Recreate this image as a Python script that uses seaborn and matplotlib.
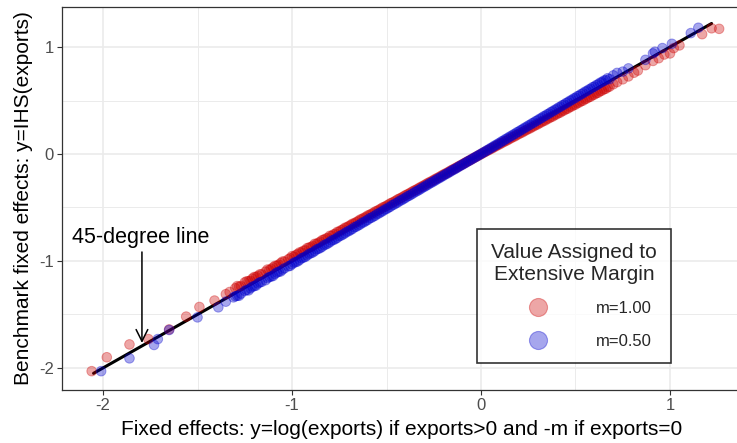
import matplotlib
matplotlib.use("Agg")
import matplotlib.pyplot as plt
from matplotlib.lines import Line2D
from matplotlib.ticker import MultipleLocator
import pandas as pd
import seaborn as sns

# m = 1.00 : fixed effects (x) against benchmark IHS fixed effects (y)
red_x = [-2.06, -1.98, -1.86, -1.76, -1.65, -1.56, -1.49, -1.41, -1.35, -1.33,
         -1.30, -1.28, -1.25, -1.23, -1.21, -1.19, -1.17, -1.14, -1.12, -1.10,
         -1.08, -1.06, -1.04, -1.01, -0.99, -0.97, -0.95, -0.93, -0.91, -0.89,
         -0.87, -0.85, -0.83, -0.81, -0.79, -0.77, -0.75, -0.73, -0.71, -0.69,
         -0.67, -0.65, -0.63, -0.61, -0.59, -0.57, -0.55, -0.53, -0.51, -0.49,
         -0.47, -0.45, -0.43, -0.41, -0.39, -0.37, -0.35, -0.33, -0.31, -0.29,
         -0.27, -0.25, -0.23, -0.21, -0.19, -0.17, -0.15, -0.13, -0.11, -0.09,
         -0.07, -0.05, -0.03, -0.01, 0.01, 0.03, 0.05, 0.07, 0.09, 0.11,
         0.13, 0.15, 0.17, 0.19, 0.21, 0.23, 0.25, 0.27, 0.29, 0.31,
         0.33, 0.35, 0.37, 0.39, 0.41, 0.43, 0.45, 0.47, 0.49, 0.51,
         0.53, 0.55, 0.57, 0.59, 0.61, 0.63, 0.65, 0.67, 0.70, 0.72,
         0.75, 0.78, 0.81, 0.83, 0.87, 0.91, 0.94, 0.97, 1.00, 1.02,
         1.05, 1.17, 1.22, 1.26,
         -1.29, -1.27, -1.24, -1.22, -1.20, -1.18, -1.16, -1.13, -1.11, -1.09,
         -1.07, -1.05, -1.02, -1.00, -0.98, -0.96, -0.94, -0.92, -0.90, -0.88,
         -0.86, -0.84, -0.82, -0.80, -0.78, -0.76, -0.74, -0.72, -0.70, -0.68,
         -0.66, -0.64, -0.62, -0.60, -0.58, -0.56, -0.54, -0.52, -0.50, -0.48,
         -0.46, -0.44, -0.42, -0.40, -0.38, -0.36, -0.34, -0.32, -0.30, -0.28,
         -0.26, -0.24, -0.22, -0.20, -0.18, -0.16, -0.14, -0.12, -0.10, -0.08,
         -0.06, -0.04, -0.02, 0.00, 0.02, 0.04, 0.06, 0.08, 0.10, 0.12,
         0.14, 0.16, 0.18, 0.20, 0.22, 0.24, 0.26, 0.28, 0.30, 0.32,
         0.34, 0.36, 0.38, 0.40, 0.42, 0.44, 0.46, 0.48, 0.50, 0.52,
         0.54, 0.56, 0.58, 0.60, 0.62, 0.64, 0.66, 0.68]
red_y = [-2.03, -1.90, -1.78, -1.73, -1.64, -1.52, -1.43, -1.37, -1.31, -1.29,
         -1.255, -1.24, -1.20, -1.19, -1.165, -1.15, -1.125, -1.10, -1.085, -1.06,
         -1.045, -1.02, -1.005, -0.975, -0.96, -0.935, -0.92, -0.90, -0.875, -0.86,
         -0.84, -0.82, -0.80, -0.785, -0.765, -0.745, -0.725, -0.705, -0.685, -0.665,
         -0.648, -0.628, -0.608, -0.59, -0.57, -0.552, -0.532, -0.512, -0.494, -0.474,
         -0.455, -0.436, -0.416, -0.397, -0.378, -0.359, -0.339, -0.32, -0.301, -0.281,
         -0.262, -0.243, -0.224, -0.204, -0.185, -0.166, -0.146, -0.127, -0.108, -0.088,
         -0.069, -0.049, -0.030, -0.010, 0.009, 0.028, 0.047, 0.066, 0.085, 0.104,
         0.122, 0.141, 0.160, 0.179, 0.197, 0.216, 0.235, 0.253, 0.272, 0.290,
         0.309, 0.328, 0.346, 0.365, 0.383, 0.402, 0.420, 0.439, 0.457, 0.476,
         0.494, 0.513, 0.531, 0.550, 0.568, 0.587, 0.605, 0.624, 0.652, 0.672,
         0.698, 0.725, 0.76, 0.78, 0.83, 0.87, 0.895, 0.93, 0.94, 0.99,
         1.015, 1.12, 1.175, 1.17,
         -1.235, -1.235, -1.19, -1.185, -1.15, -1.14, -1.125, -1.08, -1.075, -1.045,
         -1.035, -1.005, -0.985, -0.955, -0.945, -0.92, -0.905, -0.88, -0.87, -0.84,
         -0.83, -0.805, -0.79, -0.765, -0.752, -0.728, -0.713, -0.69, -0.675, -0.652,
         -0.637, -0.614, -0.598, -0.576, -0.56, -0.538, -0.522, -0.50, -0.484, -0.462,
         -0.446, -0.424, -0.408, -0.386, -0.369, -0.348, -0.331, -0.31, -0.292, -0.271,
         -0.254, -0.233, -0.215, -0.194, -0.176, -0.155, -0.137, -0.117, -0.098, -0.078,
         -0.059, -0.039, -0.020, -0.001, 0.018, 0.036, 0.054, 0.074, 0.092, 0.112,
         0.129, 0.149, 0.166, 0.186, 0.203, 0.223, 0.240, 0.260, 0.277, 0.297,
         0.314, 0.334, 0.351, 0.371, 0.388, 0.408, 0.425, 0.445, 0.462, 0.482,
         0.499, 0.519, 0.536, 0.556, 0.573, 0.593, 0.610, 0.630]

# m = 0.50
blue_x = [-2.01, -1.86, -1.73, -1.71, -1.65, -1.50, -1.39, -1.35, -1.31,
          -1.29, -1.27, -1.24, -1.22, -1.20, -1.18, -1.16, -1.13, -1.11, -1.09,
          -1.07, -1.05, -1.02, -1.00, -0.98, -0.96, -0.94, -0.92, -0.90, -0.88,
          -0.86, -0.84, -0.82, -0.80, -0.78, -0.76, -0.74, -0.72, -0.70, -0.68,
          -0.66, -0.64, -0.62, -0.60, -0.58, -0.56, -0.54, -0.52, -0.50, -0.48,
          -0.46, -0.44, -0.42, -0.40, -0.38, -0.36, -0.34, -0.32, -0.30, -0.28,
          -0.26, -0.24, -0.22, -0.20, -0.18, -0.16, -0.14, -0.12, -0.10, -0.08,
          -0.06, -0.04, -0.02, 0.00, 0.02, 0.04, 0.06, 0.08, 0.10, 0.12,
          0.14, 0.16, 0.18, 0.20, 0.22, 0.24, 0.26, 0.28, 0.30, 0.32,
          0.34, 0.36, 0.38, 0.40, 0.42, 0.44, 0.46, 0.48, 0.50, 0.52,
          0.54, 0.56, 0.58, 0.60, 0.62, 0.64, 0.66, 0.68,
          0.75, 0.78, 0.87, 0.91, 0.92, 0.96, 1.01, 1.11, 1.15,
          -1.30, -1.28, -1.25, -1.23, -1.21, -1.19, -1.17, -1.14, -1.12, -1.10,
          -1.08, -1.06, -1.04, -1.01, -0.99, -0.97, -0.95, -0.93, -0.91, -0.89,
          -0.87, -0.85, -0.83, -0.81, -0.79, -0.77, -0.75, -0.73, -0.71, -0.69,
          -0.67, -0.65, -0.63, -0.61, -0.59, -0.57, -0.55, -0.53, -0.51, -0.49,
          -0.47, -0.45, -0.43, -0.41, -0.39, -0.37, -0.35, -0.33, -0.31, -0.29,
          -0.27, -0.25, -0.23, -0.21, -0.19, -0.17, -0.15, -0.13, -0.11, -0.09,
          -0.07, -0.05, -0.03, -0.01, 0.01, 0.03, 0.05, 0.07, 0.09, 0.11,
          0.13, 0.15, 0.17, 0.19, 0.21, 0.23, 0.25, 0.27, 0.29, 0.31,
          0.33, 0.35, 0.37, 0.39, 0.41, 0.43, 0.45, 0.47, 0.49, 0.51,
          0.53, 0.55, 0.57, 0.59, 0.61, 0.63, 0.65, 0.67, 0.70, 0.72]
blue_y = [-2.03, -1.91, -1.785, -1.73, -1.645, -1.527, -1.433, -1.38, -1.34,
          -1.325, -1.305, -1.27, -1.255, -1.235, -1.21, -1.195, -1.16, -1.145, -1.12,
          -1.10, -1.08, -1.05, -1.03, -1.01, -0.99, -0.968, -0.948, -0.927, -0.907,
          -0.886, -0.866, -0.845, -0.824, -0.803, -0.783, -0.762, -0.741, -0.721, -0.70,
          -0.679, -0.659, -0.638, -0.617, -0.596, -0.576, -0.555, -0.534, -0.514, -0.493,
          -0.472, -0.452, -0.431, -0.41, -0.39, -0.369, -0.348, -0.328, -0.307, -0.286,
          -0.266, -0.245, -0.225, -0.204, -0.184, -0.163, -0.143, -0.122, -0.102, -0.081,
          -0.061, -0.040, -0.020, 0.000, 0.021, 0.042, 0.063, 0.084, 0.105, 0.126,
          0.147, 0.168, 0.189, 0.210, 0.231, 0.252, 0.273, 0.294, 0.315, 0.336,
          0.357, 0.378, 0.399, 0.420, 0.441, 0.462, 0.483, 0.504, 0.525, 0.546,
          0.567, 0.588, 0.609, 0.630, 0.651, 0.672, 0.69, 0.70,
          0.77, 0.80, 0.88, 0.94, 0.956, 0.99, 1.03, 1.13, 1.18,
          -1.33, -1.325, -1.28, -1.275, -1.24, -1.23, -1.20, -1.18, -1.15, -1.14,
          -1.108, -1.098, -1.068, -1.046, -1.016, -1.004, -0.975, -0.962, -0.934, -0.92,
          -0.892, -0.878, -0.851, -0.836, -0.809, -0.794, -0.768, -0.752, -0.727, -0.71,
          -0.685, -0.668, -0.644, -0.626, -0.602, -0.585, -0.561, -0.543, -0.52, -0.502,
          -0.479, -0.461, -0.438, -0.42, -0.397, -0.379, -0.356, -0.338, -0.315, -0.296,
          -0.274, -0.255, -0.233, -0.214, -0.192, -0.173, -0.151, -0.132, -0.11, -0.091,
          -0.069, -0.05, -0.029, -0.009, 0.012, 0.033, 0.054, 0.076, 0.096, 0.118,
          0.139, 0.160, 0.180, 0.202, 0.222, 0.244, 0.265, 0.286, 0.307, 0.328,
          0.350, 0.370, 0.392, 0.412, 0.434, 0.455, 0.476, 0.497, 0.518, 0.540,
          0.560, 0.582, 0.602, 0.624, 0.644, 0.666, 0.686, 0.708, 0.735, 0.758]

series_labels = ["m=1.00", "m=0.50"]
series_colors = ["#CD0000", "#0000CD"]
line_ends = [-2.05, 1.22]
x_ticks = [-2, -1, 0, 1]
y_ticks = [-2, -1, 0, 1]

df = pd.concat([
    pd.DataFrame({"x": red_x, "y": red_y, "m": series_labels[0]}),
    pd.DataFrame({"x": blue_x, "y": blue_y, "m": series_labels[1]}),
], ignore_index=True)

sns.set_theme(style="white")
plt.rcParams["font.family"] = ["Liberation Sans", "DejaVu Sans"]

fig = plt.figure(figsize=(7.37, 4.43), dpi=100)
ax = fig.add_axes([62 / 737, 53 / 443, 680 / 737, 383 / 443])
ax.set_facecolor("white")

# 45-degree reference line
sns.lineplot(x=line_ends, y=line_ends, ax=ax, color="black", linewidth=2.2,
             zorder=2, legend=False)

# translucent filled circles with a same-colour rim
palette = dict(zip(series_labels, series_colors))
sns.scatterplot(data=df, x="x", y="y", hue="m", palette=palette, alpha=0.35,
                s=48, linewidth=0.7, edgecolor="face", ax=ax, legend=False,
                zorder=3)

ax.set_xlim(-2.217, 1.381)
ax.set_ylim(-2.206, 1.374)
ax.set_xticks(x_ticks)
ax.set_yticks(y_ticks)
ax.set_xticklabels([str(t) for t in x_ticks])
ax.set_yticklabels([str(t) for t in y_ticks])
ax.xaxis.set_minor_locator(MultipleLocator(0.5))
ax.yaxis.set_minor_locator(MultipleLocator(0.5))
ax.grid(which="major", color="#EBEBEB", linewidth=1.2, zorder=0)
ax.grid(which="minor", color="#EBEBEB", linewidth=0.7, zorder=0)
ax.set_axisbelow(True)
ax.tick_params(which="major", axis="both", direction="out", length=3.5, width=0.8,
               color="#333333", labelcolor="#4D4D4D", labelsize=12, pad=2.5,
               bottom=True, left=True)
ax.tick_params(which="minor", length=0)
for sp in ax.spines.values():
    sp.set_color("#333333")
    sp.set_linewidth(0.9)

ax.set_xlabel("Fixed effects: y=log(exports) if exports>0 and -m if exports=0",
              fontsize=15, color="black", labelpad=5)
ax.set_ylabel("Benchmark fixed effects: y=IHS(exports)", fontsize=15,
              color="black", labelpad=4)

# annotation for the reference line
ax.text(-1.80, -0.776, "45-degree line", fontsize=15.5, ha="center", va="center",
        color="black")
ax.annotate("", xy=(-1.794, -1.766), xytext=(-1.794, -0.916),
            arrowprops=dict(arrowstyle="->,head_length=0.7,head_width=0.35",
                            lw=1.1, color="black", shrinkA=0, shrinkB=0))

handles = [Line2D([], [], marker="o", linestyle="none", markersize=13,
                  markerfacecolor=c, markeredgecolor=c, markeredgewidth=0.8,
                  alpha=0.35)
           for c in series_colors]
leg = ax.legend(handles, series_labels, title="Value Assigned to\nExtensive Margin",
                loc="lower left", bbox_to_anchor=(0.610, 0.0705), borderaxespad=0,
                frameon=True, fancybox=False, edgecolor="black",
                fontsize=12, title_fontsize=15, borderpad=0.85,
                labelspacing=1.05, handletextpad=0.9, handlelength=5.1)
leg.get_frame().set_linewidth(1.2)
leg.get_title().set_multialignment("center")

fig.savefig("out.png", dpi=100, facecolor="white")
